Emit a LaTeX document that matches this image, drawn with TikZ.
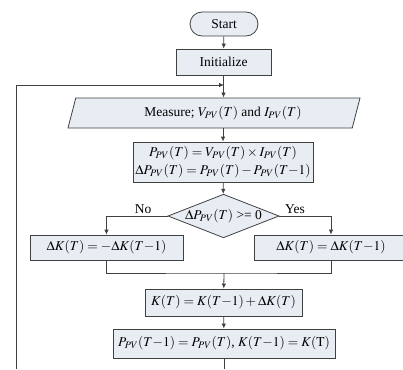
\documentclass[tikz,border=0pt]{standalone}
\usepackage{mathptmx}
\usepackage[no-math]{fontspec}
\setmainfont{Liberation Serif}
\usetikzlibrary{shapes.geometric, arrows.meta}
\definecolor{boxfill}{HTML}{E8EDF3}

\begin{document}
\begin{tikzpicture}[x=1pt, y=-1pt,
		font=\fontsize{13.5}{18}\selectfont,
		box/.style={draw=black!75, fill=boxfill, line width=0.8pt, inner sep=0pt, align=center},
		flow/.style={draw=black!75, line width=0.8pt},
		arr/.style={flow, -{Latex[length=5pt, width=4.5pt]}}
	]
		\useasboundingbox (0,0) rectangle (403,369);
		
		\node[box, rounded corners=12pt, minimum width=68pt, minimum height=24pt] (start) at (224,24) {Start};
		\node[box, minimum width=95pt, minimum height=26pt] (init) at (223.5,62) {Initialize};
		\coordinate (loop) at (224,85);
		\node[box, trapezium, trapezium left angle=60, trapezium right angle=120, trapezium stretches body,
			minimum width=292pt, minimum height=30pt] (meas) at (214,113)
			{\hspace*{18pt}Measure; $V_{PV}(T)$ and $I_{PV}(T)$};
		\node[box, minimum width=180pt, minimum height=40pt] (pv) at (223,162)
			{$P_{PV}(T) = V_{PV}(T) \times I_{PV}(T)$\\ $\Delta P_{PV}(T) = P_{PV}(T) - P_{PV}(T{-}1)$};
		\node[box, diamond, aspect=2.55, minimum width=107pt, minimum height=42pt] (dia) at (223.5,216)
			{$\Delta P_{PV}(T)$ >= 0};
		\node[box, minimum width=153pt, minimum height=25pt] (dk1) at (106.5,247.5) {$\Delta K(T) = -\Delta K(T{-}1)$};
		\node[box, minimum width=153pt, minimum height=25pt] (dk2) at (331,247.5) {$\Delta K(T) = \Delta K(T{-}1)$};
		\coordinate (merge) at (224,273);
		\node[box, minimum width=157pt, minimum height=27pt] (kk) at (223.5,302.5) {$K(T) = K(T{-}1) + \Delta K(T)$};
		\node[box, minimum width=222pt, minimum height=29pt] (upd) at (224,343.5)
			{$P_{PV}(T{-}1) = P_{PV}(T)$, $K(T{-}1) = K(\mathrm{T})$};
		\coordinate (out) at (224,369);
		\coordinate (ret) at (16,369);
		
		% main line
		\draw[arr] (start) -- (init);
		\draw[arr] (init.south) -- (init.south |- meas.north);
		\draw[arr] (ret) |- (loop);
		\draw[arr] (pv.north |- meas.south) -- (pv.north);
		\draw[arr] (pv) -- (dia);
		
		% branches
		\draw[arr] (dia.west) -| node[pos=0.2, above, inner sep=1.5pt] {No} (dk1);
		\draw[arr] (dia.east) -| node[pos=0.15, above, inner sep=1.5pt] {Yes} (dk2);
		\draw[flow] (dk1.south) |- (merge) -| (dk2.south);
		\draw[arr] (merge) -- (kk);
		\draw[arr] (kk) -- (upd);
		\draw[flow] (upd) -- (out);
\end{tikzpicture}
\end{document}
